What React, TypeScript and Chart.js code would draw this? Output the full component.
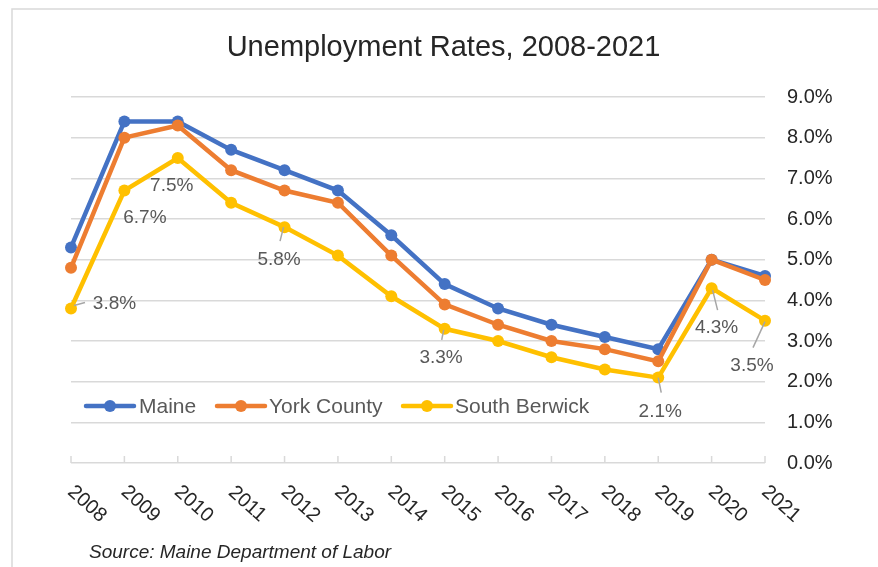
import React, { useEffect, useRef } from "react";
import { Chart, registerables } from "chart.js";

Chart.register(...registerables);

// ---- data ----
const years = ["2008", "2009", "2010", "2011", "2012", "2013", "2014", "2015", "2016", "2017", "2018", "2019", "2020", "2021"];
const maine = [5.3, 8.4, 8.4, 7.7, 7.2, 6.7, 5.6, 4.4, 3.8, 3.4, 3.1, 2.8, 5.0, 4.6];
const yorkCounty = [4.8, 8.0, 8.3, 7.2, 6.7, 6.4, 5.1, 3.9, 3.4, 3.0, 2.8, 2.5, 5.0, 4.5];
const southBerwick = [3.8, 6.7, 7.5, 6.4, 5.8, 5.1, 4.1, 3.3, 3.0, 2.6, 2.3, 2.1, 4.3, 3.5];
const yTickValues = [0, 1, 2, 3, 4, 5, 6, 7, 8, 9];
const seriesNames = ["Maine", "York County", "South Berwick"];
const labeledYears = ["2008", "2009", "2010", "2012", "2015", "2019", "2020", "2021"];
const titleText = "Unemployment Rates, 2008-2021";
const sourceText = "Source: Maine Department of Labor";

// ---- styling / placement (not data) ----
const COLORS = ["#4472C4", "#ED7D31", "#FFC000"];
const FONT = "'Liberation Sans', Arial, sans-serif";
const GRID = "#d9d9d9";
// label offsets relative to the point: text centre (dx,dy), leader start (sx,sy) & end (ex,ey)
const labelPlacement: Record<string, { dx: number; dy: number; leader?: [number, number, number, number] }> = {
  "2008": { dx: 43.5, dy: -4.5, leader: [3, -3, 14, -6] },
  "2009": { dx: 20.5, dy: 27 },
  "2010": { dx: -6, dy: 28 },
  "2012": { dx: -5.5, dy: 33, leader: [-1, 0, -4.5, 14] },
  "2015": { dx: -3.6, dy: 29, leader: [-1, 1, -3, 11] },
  "2019": { dx: 2, dy: 34, leader: [0, 0, 3, 15] },
  "2020": { dx: 5, dy: 40, leader: [1, 2, 6, 22] },
  "2021": { dx: -13, dy: 45.5, leader: [0, 1, -12, 27] },
};
const legendPlacement = [
  { x0: 86, x1: 134, tx: 139 },
  { x0: 217, x1: 265, tx: 269 },
  { x0: 403, x1: 451, tx: 455 },
];

const decorPlugin = {
  id: "decor",
  afterDatasetsDraw(chart: any) {
    const ctx = chart.ctx as CanvasRenderingContext2D;
    const xs = chart.scales.x;
    const area = chart.chartArea;
    ctx.save();
    // inside tick marks on x axis
    ctx.strokeStyle = GRID;
    ctx.lineWidth = 1.5;
    years.forEach((_, i) => {
      const x = xs.getPixelForValue(i);
      ctx.beginPath();
      ctx.moveTo(x, area.bottom);
      ctx.lineTo(x, area.bottom - 7);
      ctx.stroke();
    });
    // data labels for South Berwick
    const meta = chart.getDatasetMeta(2);
    ctx.font = `19px ${FONT}`;
    ctx.textAlign = "center";
    ctx.textBaseline = "middle";
    labeledYears.forEach((yr) => {
      const i = years.indexOf(yr);
      const pt = meta.data[i];
      const p = labelPlacement[yr];
      if (!pt || !p) return;
      if (p.leader) {
        ctx.strokeStyle = "#a6a6a6";
        ctx.lineWidth = 1.5;
        ctx.beginPath();
        ctx.moveTo(pt.x + p.leader[0], pt.y + p.leader[1]);
        ctx.lineTo(pt.x + p.leader[2], pt.y + p.leader[3]);
        ctx.stroke();
      }
      ctx.fillStyle = "#595959";
      ctx.fillText(southBerwick[i].toFixed(1) + "%", pt.x + p.dx, pt.y + p.dy);
    });
    ctx.restore();
  },
  afterDraw(chart: any) {
    const ctx = chart.ctx as CanvasRenderingContext2D;
    const xs = chart.scales.x;
    ctx.save();
    // outer frame
    ctx.strokeStyle = GRID;
    ctx.lineWidth = 1.5;
    ctx.strokeRect(12, 9, 1000, 1000);
    // title
    ctx.fillStyle = "#262626";
    ctx.font = `29px ${FONT}`;
    ctx.textAlign = "center";
    ctx.textBaseline = "alphabetic";
    ctx.fillText(titleText, 443.5, 56);
    // x labels rotated
    ctx.font = `20px ${FONT}`;
    ctx.fillStyle = "#262626";
    ctx.textAlign = "center";
    ctx.textBaseline = "middle";
    years.forEach((yr, i) => {
      const x = xs.getPixelForValue(i);
      ctx.save();
      ctx.translate(x + 16, 504);
      ctx.rotate((42 * Math.PI) / 180);
      ctx.fillText(yr, 0, 0);
      ctx.restore();
    });
    // legend
    const ly = 406;
    ctx.font = `21px ${FONT}`;
    ctx.textAlign = "left";
    ctx.textBaseline = "middle";
    legendPlacement.forEach((lp, k) => {
      ctx.strokeStyle = COLORS[k];
      ctx.lineWidth = 4.5;
      ctx.lineCap = "round";
      ctx.beginPath();
      ctx.moveTo(lp.x0, ly);
      ctx.lineTo(lp.x1, ly);
      ctx.stroke();
      ctx.fillStyle = COLORS[k];
      ctx.beginPath();
      ctx.arc((lp.x0 + lp.x1) / 2, ly, 6, 0, Math.PI * 2);
      ctx.fill();
      ctx.fillStyle = "#595959";
      ctx.fillText(seriesNames[k], lp.tx, ly + 1);
    });
    // source
    ctx.font = `italic 19px ${FONT}`;
    ctx.fillStyle = "#262626";
    ctx.textAlign = "left";
    ctx.fillText(sourceText, 89, 553);
    ctx.restore();
  },
};

export default function App() {
  const canvasRef = useRef<HTMLCanvasElement | null>(null);

  useEffect(() => {
    if (!canvasRef.current) return;
    const mk = (label: string, data: number[], k: number, order: number) => ({
      label,
      data,
      borderColor: COLORS[k],
      backgroundColor: COLORS[k],
      borderWidth: 4.5,
      pointRadius: 6,
      pointBorderWidth: 0,
      pointBackgroundColor: COLORS[k],
      tension: 0,
      clip: false as any,
      order,
    });
    const chart = new Chart(canvasRef.current, {
      type: "line",
      data: {
        labels: years,
        datasets: [
          mk(seriesNames[0], maine, 0, 3),
          mk(seriesNames[1], yorkCounty, 1, 2),
          mk(seriesNames[2], southBerwick, 2, 1),
        ],
      },
      options: {
        responsive: false,
        animation: false,
        devicePixelRatio: 1,
        layout: { padding: { top: 97, left: 71, right: 0, bottom: 0 } },
        plugins: {
          legend: { display: false },
          title: { display: false },
          tooltip: { enabled: false },
        },
        scales: {
          x: {
            type: "category",
            offset: false,
            grid: { display: false },
            border: { display: false },
            ticks: { display: false },
            afterFit: (s: any) => {
              s.height = 104;
            },
          },
          y: {
            position: "right",
            min: yTickValues[0],
            max: yTickValues[yTickValues.length - 1],
            afterBuildTicks: (s: any) => {
              s.ticks = yTickValues.map((v) => ({ value: v }));
            },
            grid: { color: GRID, lineWidth: 1.5, drawTicks: false },
            border: { display: false },
            ticks: {
              padding: 22,
              color: "#262626",
              font: { family: FONT, size: 20 },
              callback: (v: any) => Number(v).toFixed(1) + "%",
            },
            afterFit: (s: any) => {
              s.width = 113;
            },
          },
        },
      } as any,
      plugins: [decorPlugin],
    });
    return () => chart.destroy();
  }, []);

  return (
    <div style={{ position: "fixed", left: 0, top: 0, width: 878, height: 567, background: "#fff" }}>
      <canvas ref={canvasRef} width={878} height={567} style={{ width: 878, height: 567, display: "block" }} />
    </div>
  );
}
